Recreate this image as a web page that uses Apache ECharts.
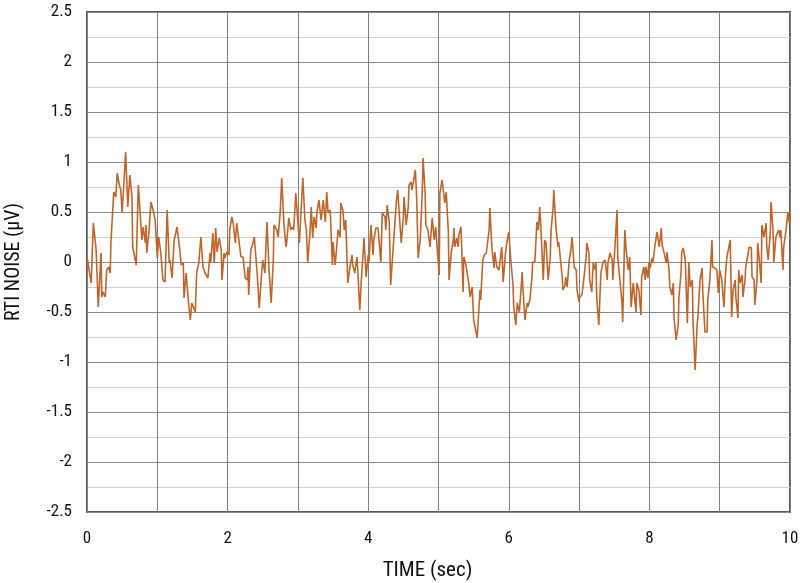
<!DOCTYPE html>
<html>
<head>
<meta charset="utf-8">
<script src="https://cdn.jsdelivr.net/npm/echarts@6/dist/echarts.min.js"></script>
<style>
html,body{margin:0;padding:0;background:#fff;}
#chart{width:800px;height:583px;}
</style>
</head>
<body>
<div id="chart"></div>
<script>
// Time stamps (seconds) and RTI noise (µV)
const timeSec = [
0.00,0.06,0.09,0.13,0.16,0.20,0.21,0.23,0.26,0.28,0.31,0.33,0.34,0.38,0.41,0.43,0.46,0.48,0.50,0.53,0.55,0.58,0.61,0.64,0.65,0.70,0.73,
0.78,0.80,0.83,0.84,0.85,0.88,0.91,0.94,0.97,1.00,1.02,1.05,1.08,1.11,1.14,1.17,1.18,1.21,1.24,1.25,1.28,1.32,1.34,1.37,1.38,1.41,1.44,1.47,1.49,1.51,1.54,1.56,1.59,
1.62,1.65,1.68,1.72,1.75,1.76,1.79,1.81,1.83,1.85,1.88,1.91,1.92,1.95,1.96,1.99,2.02,2.03,2.06,2.08,2.11,2.13,2.16,2.19,2.22,2.25,2.28,2.29,2.30,2.33,2.36,2.38,2.40,2.42,2.45,
2.49,2.50,2.53,2.56,2.59,2.62,2.65,2.66,2.70,2.72,2.75,2.77,2.80,2.83,2.84,2.87,2.90,2.92,2.94,2.97,2.99,3.02,3.04,3.07,3.10,3.12,3.14,3.17,3.19,3.21,3.23,3.26,3.27,3.30,
3.33,3.36,3.39,3.41,3.43,3.46,3.49,3.50,3.53,3.56,3.57,3.60,3.61,3.64,3.66,3.68,3.71,3.74,3.77,3.78,3.81,3.84,3.85,3.88,3.90,3.93,3.94,3.97,4.00,4.01,4.04,4.07,4.08,4.11,4.14,4.15,
4.18,4.20,4.21,4.24,4.25,4.27,4.30,4.32,4.35,4.38,4.40,4.42,4.44,4.47,4.50,4.51,4.54,4.57,4.58,4.61,4.62,4.64,4.67,4.69,4.71,4.74,4.77,4.78,4.81,4.82,4.85,4.88,4.91,4.94,4.96,4.98,5.01,
5.02,5.05,5.06,5.09,5.11,5.14,5.15,5.18,5.21,5.22,5.23,5.26,5.28,5.29,5.32,5.35,5.36,5.39,5.41,5.43,5.45,5.48,5.50,5.52,5.55,5.58,5.59,5.60,5.63,5.65,5.68,5.70,5.72,5.73,5.76,5.78,5.79,5.80,5.83,5.86,
5.90,5.92,5.95,5.97,6.00,6.03,6.06,6.07,6.10,6.12,6.15,6.17,6.19,6.20,6.23,6.26,6.27,6.30,6.33,6.34,6.37,6.40,6.42,6.44,6.46,6.49,6.51,6.53,6.56,6.59,6.60,6.63,6.64,6.67,6.70,6.71,
6.73,6.76,6.77,6.80,6.81,6.83,6.86,6.88,6.90,6.93,6.96,6.97,7.00,7.01,7.04,7.07,7.10,7.11,7.14,7.15,7.18,7.20,7.23,7.24,7.25,7.28,7.31,7.34,7.37,7.40,7.41,7.44,7.47,7.48,7.51,7.54,7.55,
7.58,7.61,7.62,7.65,7.67,7.70,7.72,7.74,7.77,7.78,7.81,7.82,7.85,7.88,7.89,7.92,7.94,7.95,7.98,7.99,8.01,8.04,8.05,8.08,8.11,8.14,8.17,8.18,8.21,8.24,8.25,8.28,8.29,8.32,8.34,8.35,8.38,8.41,8.42,
8.45,8.46,8.48,8.51,8.54,8.56,8.58,8.61,8.62,8.65,8.68,8.69,8.72,8.75,8.76,8.79,8.82,8.83,8.86,8.89,8.90,8.93,8.96,8.98,9.00,9.03,9.06,9.08,9.10,9.12,9.15,9.17,9.19,
9.22,9.23,9.26,9.27,9.29,9.32,9.33,9.36,9.37,9.40,9.42,9.45,9.46,9.49,9.50,9.53,9.54,9.56,9.59,9.60,9.63,9.66,9.67,9.69,9.72,9.73,9.76,9.77,9.80,9.82,9.84,9.86,9.87,9.90,9.91,9.94,9.96,9.97,9.99,10.00
];
const noiseUv = [
0.05,-0.21,0.39,0.12,-0.45,0.09,-0.35,-0.30,-0.35,-0.08,-0.05,-0.11,0.19,0.70,0.65,0.89,0.77,0.72,0.50,0.85,1.10,0.55,0.87,0.65,0.15,-0.03,0.77,
0.22,0.35,0.19,0.37,0.09,0.29,0.60,0.52,0.42,0.04,0.25,0.09,-0.18,-0.20,0.52,-0.01,0.02,-0.16,0.22,0.25,0.35,0.12,-0.03,-0.01,-0.36,-0.11,-0.38,-0.58,-0.41,-0.40,-0.50,-0.11,-0.01,
0.25,-0.05,-0.11,-0.16,0.09,0.00,0.29,-0.01,0.34,0.10,0.24,0.12,-0.18,0.09,0.04,0.10,0.07,0.32,0.45,0.39,0.19,0.39,0.22,0.05,0.05,-0.16,-0.18,-0.05,-0.33,0.12,0.19,0.25,0.27,-0.11,-0.46,
-0.05,0.02,-0.11,0.40,-0.08,-0.41,0.02,0.37,0.32,0.25,0.52,0.84,0.39,0.15,0.19,0.44,0.32,0.35,0.32,0.69,0.50,0.19,0.45,0.84,0.42,0.32,0.00,0.27,0.55,0.24,0.45,0.34,0.50,0.62,
0.42,0.62,0.40,0.70,0.49,0.52,-0.03,0.20,-0.03,0.22,0.32,0.25,0.59,0.52,0.32,0.42,-0.21,-0.05,0.07,-0.03,-0.11,0.05,-0.06,-0.48,-0.21,0.12,0.24,-0.15,0.07,-0.01,0.37,0.07,0.22,0.34,0.34,0.25,
0.00,0.49,0.50,0.45,0.32,0.57,0.39,-0.23,0.09,0.39,0.60,0.72,0.50,0.19,0.45,0.65,0.37,0.55,0.77,0.80,0.72,0.79,0.92,0.64,0.04,0.22,0.72,1.04,0.69,0.37,0.32,0.15,0.44,0.22,0.35,0.15,-0.13,
0.69,0.82,0.77,0.59,0.70,0.30,-0.18,0.09,0.22,0.34,0.15,0.24,0.15,0.27,0.35,-0.30,0.05,-0.03,-0.03,-0.21,-0.35,-0.25,-0.58,-0.56,-0.76,-0.41,-0.28,-0.38,0.02,0.07,0.09,0.10,0.32,0.54,0.14,0.12,-0.06,0.10,-0.05,-0.08,
0.15,-0.20,0.07,0.19,0.30,0.00,-0.23,-0.45,-0.63,-0.41,-0.50,-0.31,-0.10,-0.25,-0.58,-0.41,-0.45,-0.38,-0.15,0.00,0.00,0.40,0.32,0.55,0.29,-0.18,0.22,0.19,-0.18,0.05,0.30,0.55,0.72,0.35,0.15,0.20,
0.19,-0.15,-0.28,-0.23,-0.15,-0.25,0.02,0.10,0.25,-0.05,-0.08,-0.28,-0.40,-0.35,-0.33,-0.15,0.05,0.19,0.09,-0.18,-0.30,-0.01,-0.08,0.00,-0.35,-0.63,-0.11,0.00,0.02,-0.18,-0.01,0.09,0.02,-0.18,0.15,0.52,0.05,
-0.18,-0.41,-0.60,0.32,0.12,-0.08,0.05,-0.45,-0.21,-0.23,-0.50,-0.21,-0.28,-0.53,-0.15,-0.05,-0.18,-0.05,-0.16,0.00,-0.06,0.04,0.00,0.17,0.30,0.15,0.34,0.17,0.09,-0.01,0.10,-0.08,-0.25,-0.33,-0.21,-0.55,-0.78,-0.63,-0.35,
-0.11,0.10,0.14,0.02,-0.61,0.00,-0.25,-0.18,-0.58,-1.08,-0.61,-0.55,-0.18,-0.06,-0.31,-0.70,-0.70,-0.38,-0.18,0.22,-0.05,-0.06,-0.08,-0.31,-0.08,-0.18,-0.45,-0.15,0.04,0.05,0.22,-0.55,-0.28,
-0.18,-0.35,-0.56,-0.08,-0.21,-0.13,-0.35,-0.18,-0.05,0.07,0.15,0.14,-0.15,-0.18,-0.43,-0.18,0.19,0.05,-0.21,0.37,0.25,0.39,0.15,0.02,0.30,0.60,0.30,0.00,0.25,0.29,0.32,0.25,0.32,-0.08,0.15,0.30,0.29,0.50,0.39,0.45
];
const xTitle = 'TIME (sec)';
const yTitle = 'RTI NOISE (µV)';

const seriesData = timeSec.map((t, i) => [t, noiseUv[i]]);
const font = '"Liberation Sans Narrow", "Arial Narrow", "Roboto Condensed", Roboto, sans-serif';

const chart = echarts.init(document.getElementById('chart'), null, {renderer: 'canvas'});
chart.setOption({
  animation: false,
  backgroundColor: '#ffffff',
  grid: {left: 87, right: 10, top: 12, bottom: 71, show: true, borderColor: '#5a5a5a', borderWidth: 2,
    containLabel: false, outerBoundsMode: 'none'},
  xAxis: {
    type: 'value', min: 0, max: 10, interval: 1,
    name: xTitle, nameLocation: 'middle', nameGap: 48,
    nameTextStyle: {fontFamily: font, fontSize: 21, color: '#111', padding: [0, 22, 0, 0]},
    axisLine: {show: false}, axisTick: {show: false},
    axisLabel: {margin: 18, fontFamily: font, fontSize: 17, color: '#111',
      formatter: v => (Math.round(v) % 2 === 0 ? String(v) : '')},
    splitLine: {show: true, lineStyle: {color: '#808080', width: 1}}
  },
  yAxis: {
    type: 'value', min: -2.5, max: 2.5, interval: 0.5,
    name: yTitle, nameLocation: 'middle', nameGap: 63, nameRotate: 90,
    nameTextStyle: {fontFamily: font, fontSize: 20, color: '#111'},
    axisLine: {show: false}, axisTick: {show: false},
    axisLabel: {margin: 15, fontFamily: font, fontSize: 17, color: '#111'},
    splitLine: {show: true, lineStyle: {color: '#8a8a8a', width: 1}},
    minorTick: {show: false, splitNumber: 2},
    minorSplitLine: {show: true, lineStyle: {color: '#d0d0d0', width: 1}}
  },
  series: [{
    type: 'line', data: seriesData, showSymbol: false, symbol: 'none',
    lineStyle: {color: '#c0662b', width: 1.6}, itemStyle: {color: '#c0662b'}
  }]
});
</script>
</body>
</html>
